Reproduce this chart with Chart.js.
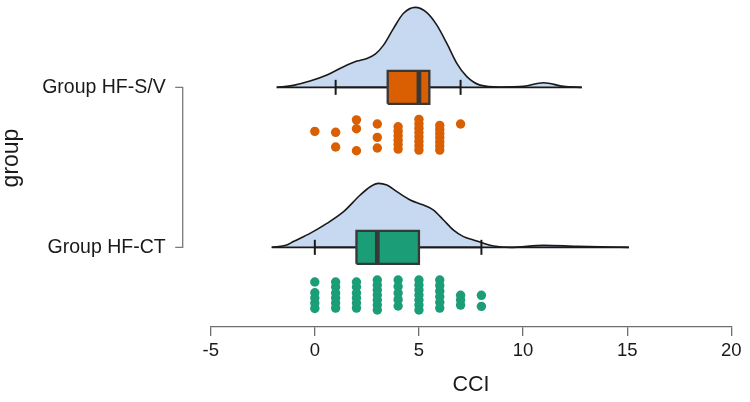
<!DOCTYPE html>
<html lang="en">
<head>
    <meta charset="UTF-8">
    <title>CCI by group</title>
    <script src="https://cdn.jsdelivr.net/npm/chart.js"></script>
    <style>
        body { margin: 0; background: #fff; }
    </style>
</head>
<body>
    <canvas id="cciChart" width="750" height="402"></canvas>
    <script>
        // groups, bottom to top
        const groups = ['Group HF-CT', 'Group HF-S/V'];
        const groupPos = [1, 2];
        const xTicks = [-5, 0, 5, 10, 15, 20];

        // box plot stats per group
        const boxMin = [0, 1];
        const boxQ1 = [2, 3.5];
        const boxMedian = [3, 5];
        const boxQ3 = [5, 5.5];
        const boxMax = [8, 7];

        // density curves (height in y units above the group line)
        const ctDensX = [-2.07, -1.35, -1.03, -0.23, 0.58, 1.38, 2.18, 2.66, 3.06, 3.46, 3.94, 4.58, 5.22, 5.70, 6.18, 6.66, 7.14, 7.62, 8.1, 8.59, 9.39, 10.99, 12.6, 15.08];
        const ctDensY = [0, 0.014, 0.036, 0.0875, 0.15, 0.223, 0.327, 0.379, 0.4, 0.389, 0.348, 0.296, 0.264, 0.233, 0.171, 0.108, 0.067, 0.046, 0.025, 0.008, 0, 0.0125, 0.006, 0];
        const svDensX = [-1.83, -1.03, -0.23, 0.58, 1.38, 2.02, 2.5, 2.9, 3.3, 3.78, 4.26, 4.82, 5.38, 5.86, 6.34, 6.82, 7.3, 7.94, 8.9, 10.02, 10.98, 11.94, 12.82];
        const svDensY = [0, 0.0125, 0.039, 0.077, 0.129, 0.164, 0.181, 0.208, 0.264, 0.369, 0.463, 0.5, 0.467, 0.389, 0.275, 0.15, 0.067, 0.014, 0.002, 0.006, 0.029, 0.006, 0];

        // raw CCI values and their vertical jitter (y units below the group line)
        const ctValues = [0, 0, 0, 0, 0, 1, 1, 1, 1, 1, 1, 2, 2, 2, 2, 2, 2, 3, 3, 3, 3, 3, 3, 3, 4, 4, 4, 4, 4, 5, 5, 5, 5, 5, 5, 5, 6, 6, 6, 6, 6, 6, 7, 7, 7, 8, 8];
        const ctJitter = [
            -0.217, -0.284, -0.317, -0.348, -0.382,
            -0.217, -0.248, -0.286, -0.317, -0.348, -0.38,
            -0.217, -0.248, -0.286, -0.317, -0.348, -0.38,
            -0.204, -0.236, -0.267, -0.298, -0.329, -0.361, -0.392,
            -0.204, -0.245, -0.286, -0.327, -0.367,
            -0.204, -0.236, -0.267, -0.298, -0.329, -0.361, -0.392,
            -0.204, -0.239, -0.274, -0.309, -0.344, -0.38,
            -0.3, -0.329, -0.361,
            -0.3, -0.369
        ];
        const svValues = [0, 1, 1, 2, 2, 2, 3, 3, 3, 4, 4, 4, 4, 4, 4, 5, 5, 5, 5, 5, 5, 5, 5, 6, 6, 6, 6, 6, 6, 6, 7];
        const svJitter = [
            -0.275,
            -0.281, -0.373,
            -0.203, -0.259, -0.396,
            -0.229, -0.313, -0.379,
            -0.246, -0.274, -0.302, -0.33, -0.358, -0.386,
            -0.2, -0.228, -0.255, -0.283, -0.31, -0.338, -0.365, -0.392,
            -0.238, -0.263, -0.289, -0.314, -0.341, -0.366, -0.392,
            -0.229
        ];

        const FONT = '"Liberation Sans", Arial, sans-serif';
        const groupColors = ['#1b9e77', '#d95f02'];
        const BOX_H = 0.103;
        const CAP_H = 0.047;

        const densX = [ctDensX, svDensX];
        const densY = [ctDensY, svDensY];
        const values = [ctValues, svValues];
        const jitter = [ctJitter, svJitter];

        const seg = (x1, y1, x2, y2) => [{ x: x1, y: y1 }, { x: x2, y: y2 }];
        const lineDs = (data, color, width, order, extra = {}) => ({
            type: 'line',
            data: data,
            borderColor: color,
            borderWidth: width,
            pointRadius: 0,
            fill: false,
            order: order,
            clip: false,
            ...extra
        });

        const datasets = [];
        groups.forEach((name, i) => {
            const g = groupPos[i];
            const dx = densX[i];

            // density cloud
            datasets.push(lineDs(dx.map((x, k) => ({ x: x, y: g + densY[i][k] })), '#1a1a1a', 1.6, 6, {
                backgroundColor: '#c6d9f0',
                fill: { value: g },
                cubicInterpolationMode: 'monotone'
            }));
            datasets.push(lineDs(seg(dx[0], g, dx[dx.length - 1], g), '#1a1a1a', 1.6, 5));

            // whiskers and caps
            datasets.push(lineDs(seg(boxMin[i], g, boxQ1[i], g), '#1a1a1a', 1.6, 4));
            datasets.push(lineDs(seg(boxQ3[i], g, boxMax[i], g), '#1a1a1a', 1.6, 4));
            datasets.push(lineDs(seg(boxMin[i], g - CAP_H, boxMin[i], g + CAP_H), '#1a1a1a', 2, 4));
            datasets.push(lineDs(seg(boxMax[i], g - CAP_H, boxMax[i], g + CAP_H), '#1a1a1a', 2, 4));

            // box
            datasets.push(lineDs([
                { x: boxQ1[i], y: g - BOX_H },
                { x: boxQ3[i], y: g - BOX_H },
                { x: boxQ3[i], y: g + BOX_H },
                { x: boxQ1[i], y: g + BOX_H },
                { x: boxQ1[i], y: g - BOX_H }
            ], '#383838', 2.3, 3, {
                backgroundColor: groupColors[i],
                fill: 'shape',
                borderJoinStyle: 'miter'
            }));
            datasets.push(lineDs(seg(boxMedian[i], g - BOX_H, boxMedian[i], g + BOX_H), '#383838', 4.7, 2));

            // rain
            datasets.push({
                type: 'scatter',
                data: values[i].map((v, k) => ({ x: v, y: g + jitter[i][k] })),
                backgroundColor: groupColors[i],
                borderWidth: 0,
                pointRadius: 4.7,
                order: 1,
                clip: false
            });
        });

        // bracket on the left and the rotated "group" title
        const yAxisDecor = {
            id: 'yAxisDecor',
            afterDraw(chart) {
                const { ctx, chartArea, scales: { y } } = chart;
                const x0 = chartArea.left - 28;
                const top = y.getPixelForValue(groupPos[1]);
                const bottom = y.getPixelForValue(groupPos[0]);
                ctx.save();
                ctx.strokeStyle = '#7a7a7a';
                ctx.lineWidth = 1.3;
                ctx.beginPath();
                ctx.moveTo(x0 - 7.5, top);
                ctx.lineTo(x0, top);
                ctx.lineTo(x0, bottom);
                ctx.lineTo(x0 - 7.5, bottom);
                ctx.stroke();

                ctx.translate(12, 158);
                ctx.rotate(-Math.PI / 2);
                ctx.font = '23px ' + FONT;
                ctx.fillStyle = '#1a1a1a';
                ctx.textAlign = 'center';
                ctx.textBaseline = 'middle';
                ctx.fillText('group', 0, 0);
                ctx.restore();
            }
        };

        new Chart(document.getElementById('cciChart'), {
            type: 'scatter',
            data: { datasets: datasets },
            plugins: [yAxisDecor],
            options: {
                responsive: false,
                devicePixelRatio: 1,
                animation: false,
                events: [],
                layout: { autoPadding: false, padding: { left: 0, right: 18.7, top: 0, bottom: 0 } },
                plugins: {
                    legend: { display: false },
                    tooltip: { enabled: false }
                },
                scales: {
                    x: {
                        type: 'linear',
                        min: -5,
                        max: 20,
                        afterBuildTicks: (scale) => { scale.ticks = xTicks.map(v => ({ value: v })); },
                        afterFit: (scale) => { scale.height = 75; },
                        grid: { display: true, drawOnChartArea: false, drawTicks: true, tickLength: 9, color: '#6e6e6e', lineWidth: 1.3 },
                        border: { display: true, color: '#6e6e6e', width: 1.3 },
                        ticks: { padding: 4, color: '#1a1a1a', font: { size: 18.5, family: FONT } },
                        title: { display: true, text: 'CCI', color: '#1a1a1a', font: { size: 21.5, family: FONT }, padding: { top: 0, bottom: 4 } }
                    },
                    y: {
                        type: 'linear',
                        min: 0.502,
                        max: 2.546,
                        afterBuildTicks: (scale) => { scale.ticks = groupPos.map(v => ({ value: v })); },
                        afterFit: (scale) => {
                            scale.width = 210.7;
                            // the wide label padding must not push the plot area down
                            scale.paddingTop = 0;
                            scale.paddingBottom = 0;
                        },
                        grid: { display: false, drawTicks: false },
                        border: { display: false },
                        ticks: {
                            padding: 45,
                            color: '#1a1a1a',
                            font: { size: 19.5, family: FONT },
                            callback: (value) => groups[groupPos.indexOf(value)]
                        }
                    }
                }
            }
        });
    </script>
</body>
</html>
